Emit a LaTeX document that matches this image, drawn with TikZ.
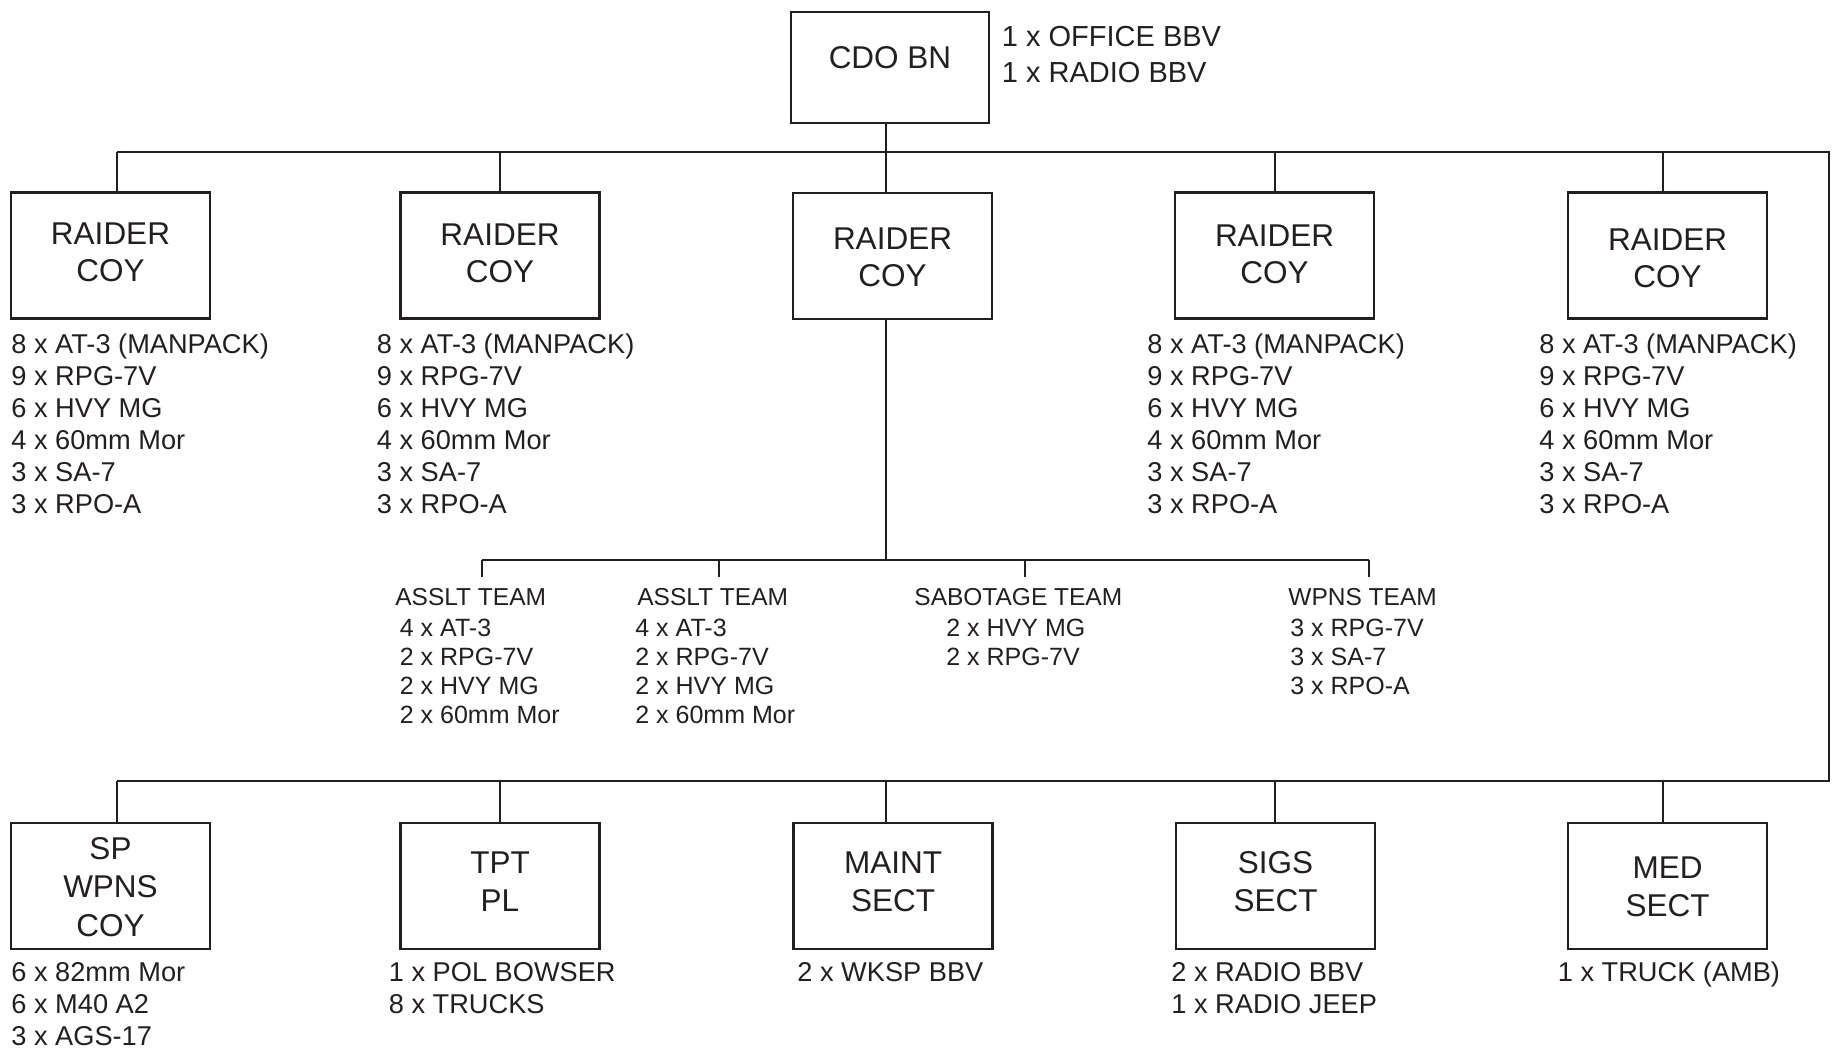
\documentclass[tikz,border=0pt]{standalone}
\usepackage{fontspec}
\setmainfont{Liberation Sans}
\definecolor{ink}{RGB}{35,31,32}
\newcommand{\itemlist}[1]{\begin{tabular}[t]{@{}l@{}}#1\end{tabular}}
\newcommand{\boxlines}[1]{\begin{tabular}[t]{@{}c@{}}#1\end{tabular}}
\begin{document}
\begin{tikzpicture}[x=0.5pt,y=-0.5pt,
  unitbox/.style={draw=ink, line width=1.2pt, minimum width=99.5pt, minimum height=63pt,
    inner sep=0pt, outer sep=0pt, text=ink, text height=0pt,
    font=\fontsize{15.75pt}{18.5pt}\selectfont},
  lowbox/.style={unitbox, font=\fontsize{15.75pt}{19.25pt}\selectfont},
  conn/.style={draw=ink, line width=1.2pt},
  listtext/.style={anchor=base west, inner sep=0pt, text=ink,
    font=\fontsize{13.6pt}{16pt}\selectfont},
  notetext/.style={anchor=base west, inner sep=0pt, text=ink,
    font=\fontsize{14.5pt}{18pt}\selectfont},
  teamhead/.style={anchor=base west, inner xsep=0pt, inner ysep=5.7pt, text height=8.6pt,
    text depth=0pt, text=ink, font=\fontsize{12.25pt}{14.65pt}\selectfont},
  teamitems/.style={anchor=base west, inner sep=0pt, text=ink,
    font=\fontsize{12.5pt}{14.65pt}\selectfont}]
\useasboundingbox (0,0) rectangle (1832,1051);

% HQ
\node[unitbox, minimum width=99pt, minimum height=55.5pt, text height=1pt, text depth=0pt] (cdo) at (890,67.5) {CDO BN};
\node[notetext] (cdonote) at (1001.5,46.7) {\itemlist{1 x OFFICE BBV\\1 x RADIO BBV}};

% bus coordinates
\coordinate (tL) at (117,152);
\coordinate (tR) at (1829,152);
\coordinate (bL) at (117,781);
\coordinate (bR) at (1829,781);
\coordinate (trunk) at (886,152);
\coordinate (d1) at (117,152);
\coordinate (d2) at (500,152);
\coordinate (d4) at (1275,152);
\coordinate (d5) at (1663,152);
\coordinate (e1) at (117,781);
\coordinate (e2) at (500,781);
\coordinate (e3) at (886,781);
\coordinate (e4) at (1275,781);
\coordinate (e5) at (1663,781);
\coordinate (tbar) at (886,560);
\coordinate (tb1) at (482,560);
\coordinate (tb2) at (719,560);
\coordinate (tb3) at (1025,560);
\coordinate (tb4) at (1369,560);

% row 1 boxes
\node[unitbox, text depth=11pt] (r1) at (110.5,255.5) {\boxlines{RAIDER\\COY}};
\node[unitbox, text depth=10.5pt] (r2) at (500,255.5) {\boxlines{RAIDER\\COY}};
\node[unitbox, text depth=6.4pt] (r3) at (892.5,256) {\boxlines{RAIDER\\COY}};
\node[unitbox, text depth=9.4pt] (r4) at (1274.5,255.5) {\boxlines{RAIDER\\COY}};
\node[unitbox, text depth=4.7pt] (r5) at (1667.5,255.5) {\boxlines{RAIDER\\COY}};

% row 1 lists
\node[listtext] (l1) at (11,353.5) {\itemlist{8 x AT-3 (MANPACK)\\9 x RPG-7V\\6 x HVY MG\\4 x 60mm Mor\\3 x SA-7\\3 x RPO-A}};
\node[listtext] (l2) at (376.5,353.5) {\itemlist{8 x AT-3 (MANPACK)\\9 x RPG-7V\\6 x HVY MG\\4 x 60mm Mor\\3 x SA-7\\3 x RPO-A}};
\node[listtext] (l4) at (1147,353.5) {\itemlist{8 x AT-3 (MANPACK)\\9 x RPG-7V\\6 x HVY MG\\4 x 60mm Mor\\3 x SA-7\\3 x RPO-A}};
\node[listtext] (l5) at (1539,353.5) {\itemlist{8 x AT-3 (MANPACK)\\9 x RPG-7V\\6 x HVY MG\\4 x 60mm Mor\\3 x SA-7\\3 x RPO-A}};

% teams
\node[teamhead] (h1) at (395,605.6) {ASSLT TEAM};
\node[teamhead] (h2) at (637,605.6) {ASSLT TEAM};
\node[teamhead] (h3) at (914,605.6) {SABOTAGE TEAM};
\node[teamhead] (h4) at (1288,605.6) {WPNS TEAM};
\node[teamitems] (t1) at (399.5,636) {\itemlist{4 x AT-3\\2 x RPG-7V\\2 x HVY MG\\2 x 60mm Mor}};
\node[teamitems] (t2) at (635,636) {\itemlist{4 x AT-3\\2 x RPG-7V\\2 x HVY MG\\2 x 60mm Mor}};
\node[teamitems] (t3) at (946,636) {\itemlist{2 x HVY MG\\2 x RPG-7V}};
\node[teamitems] (t4) at (1290,636) {\itemlist{3 x RPG-7V\\3 x SA-7\\3 x RPO-A}};

% bottom row boxes
\node[lowbox, text depth=26.7pt] (s1) at (110.5,886) {\boxlines{SP\\WPNS\\COY}};
\node[lowbox, text depth=12.7pt] (s2) at (500,886) {\boxlines{TPT\\PL}};
\node[lowbox, text depth=12.7pt] (s3) at (893,886) {\boxlines{MAINT\\SECT}};
\node[lowbox, text depth=12.7pt] (s4) at (1275.5,886) {\boxlines{SIGS\\SECT}};
\node[lowbox, text depth=8pt] (s5) at (1667.5,886) {\boxlines{MED\\SECT}};

% bottom lists
\node[listtext] (m1) at (11,981.5) {\itemlist{6 x 82mm Mor\\6 x M40 A2\\3 x AGS-17}};
\node[listtext] (m2) at (388.5,981.5) {\itemlist{1 x POL BOWSER\\8 x TRUCKS}};
\node[listtext] (m3) at (797,981.5) {\itemlist{2 x WKSP BBV}};
\node[listtext] (m4) at (1171,981.5) {\itemlist{2 x RADIO BBV\\1 x RADIO JEEP}};
\node[listtext] (m5) at (1557.5,981.5) {\itemlist{1 x TRUCK (AMB)}};

% connectors
\draw[conn] (tL) -- (tR) -- (bR) -- (bL);
\draw[conn] (trunk |- cdo.south) -- (trunk |- r3.north);
\draw[conn] (d1) -- (d1 |- r1.north);
\draw[conn] (d2) -- (d2 |- r2.north);
\draw[conn] (d4) -- (d4 |- r4.north);
\draw[conn] (d5) -- (d5 |- r5.north);
\draw[conn] (trunk |- r3.south) -- (tbar);
\draw[conn] (tb1) -- (tb4);
\draw[conn] (tb1) -- (tb1 |- h1.north);
\draw[conn] (tb2) -- (tb2 |- h2.north);
\draw[conn] (tb3) -- (tb3 |- h3.north);
\draw[conn] (tb4) -- (tb4 |- h4.north);
\draw[conn] (e1) -- (e1 |- s1.north);
\draw[conn] (e2) -- (e2 |- s2.north);
\draw[conn] (e3) -- (e3 |- s3.north);
\draw[conn] (e4) -- (e4 |- s4.north);
\draw[conn] (e5) -- (e5 |- s5.north);
\end{tikzpicture}
\end{document}
